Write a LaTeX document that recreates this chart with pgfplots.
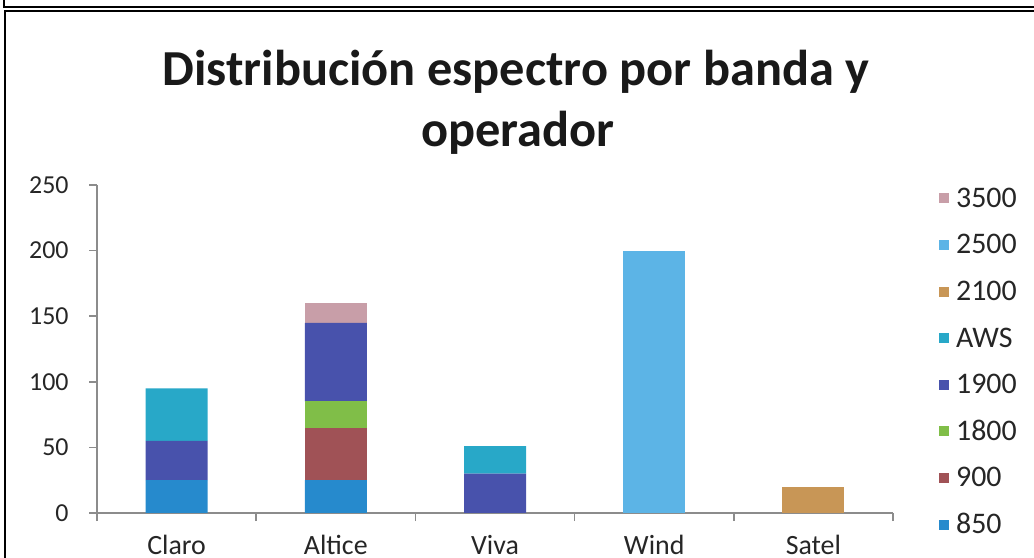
\documentclass[border=0pt]{standalone}
\usepackage{fontspec}
\setmainfont{Carlito}
\usepackage{pgfplots}
\pgfplotsset{compat=1.18}

\definecolor{c850}{RGB}{38,138,205}
\definecolor{c900}{RGB}{160,82,86}
\definecolor{c1800}{RGB}{128,190,72}
\definecolor{c1900}{RGB}{72,82,172}
\definecolor{cAWS}{RGB}{40,168,200}
\definecolor{c2100}{RGB}{200,150,86}
\definecolor{c2500}{RGB}{92,180,230}
\definecolor{c3500}{RGB}{200,158,168}
\definecolor{axisgray}{RGB}{140,140,140}

\begin{document}
\begin{tikzpicture}
\useasboundingbox (0,0) rectangle (517bp,279bp);
% scan frame
\draw[line width=1bp] (2bp,279bp) -- (2bp,275.5bp) -- (517bp,275.5bp);
\draw[line width=1bp] (2.5bp,0bp) -- (2.5bp,273.5bp) -- (517bp,273.5bp);

\node[font=\bfseries\fontsize{25.3}{30}\selectfont, text=black!90, anchor=base] at (258bp,236bp) {Distribución espectro por banda y};
\node[font=\bfseries\fontsize{25.3}{30}\selectfont, text=black!90, anchor=base] at (259bp,205.5bp) {operador};

\begin{axis}[
  at={(48.5bp,22.5bp)}, anchor=south west,
  scale only axis, width=398bp, height=164bp,
  ybar stacked, bar width=31bp,
  every axis plot post/.append style={
    legend image code/.code={\fill[##1] (0bp,-2.5bp) rectangle (5bp,2.5bp);}},
  xmin=-0.5, xmax=4.5, ymin=0, ymax=250,
  xtick={0,1,2,3,4},
  xticklabels={Claro,Altice,Viva,Wind,Satel},
  minor xtick={-0.5,0.5,1.5,2.5,3.5,4.5},
  major x tick style={draw=none},
  ytick={0,50,100,150,200,250},
  /pgf/number format/assume math mode=true,
  axis x line=bottom, axis y line=left,
  axis line style={-, axisgray, line width=1bp},
  tick style={axisgray, line width=0.8bp},
  tick align=outside,
  major tick length=4bp, minor tick length=4bp,
  xticklabel style={font=\fontsize{14}{16}\selectfont, text=black!85, anchor=base, yshift=-16.5bp},
  yticklabel style={font=\fontsize{13}{15}\selectfont, text=black!85, anchor=east, inner sep=0pt, xshift=-10bp},
  reverse legend,
  legend style={at={(1.05,1.0)}, anchor=north west, draw=none, fill=none,
    font=\fontsize{15}{17}\selectfont, text=black!85,
    row sep=14.3bp,
    nodes={inner sep=0pt, text height=9bp, text depth=0pt},
    /tikz/every odd column/.append style={column sep=3.5bp}},
  legend cell align=left,
]
\addplot[fill=c850, draw=none] coordinates {(0,25) (1,25) (2,0) (3,0) (4,0)};
\addlegendentry{850}
\addplot[fill=c900, draw=none] coordinates {(0,0) (1,40) (2,0) (3,0) (4,0)};
\addlegendentry{900}
\addplot[fill=c1800, draw=none] coordinates {(0,0) (1,20) (2,0) (3,0) (4,0)};
\addlegendentry{1800}
\addplot[fill=c1900, draw=none] coordinates {(0,30) (1,60) (2,30) (3,0) (4,0)};
\addlegendentry{1900}
\addplot[fill=cAWS, draw=none] coordinates {(0,40) (1,0) (2,21) (3,0) (4,0)};
\addlegendentry{AWS}
\addplot[fill=c2100, draw=none] coordinates {(0,0) (1,0) (2,0) (3,0) (4,20)};
\addlegendentry{2100}
\addplot[fill=c2500, draw=none] coordinates {(0,0) (1,0) (2,0) (3,200) (4,0)};
\addlegendentry{2500}
\addplot[fill=c3500, draw=none] coordinates {(0,0) (1,15) (2,0) (3,0) (4,0)};
\addlegendentry{3500}
\end{axis}
\end{tikzpicture}
\end{document}
